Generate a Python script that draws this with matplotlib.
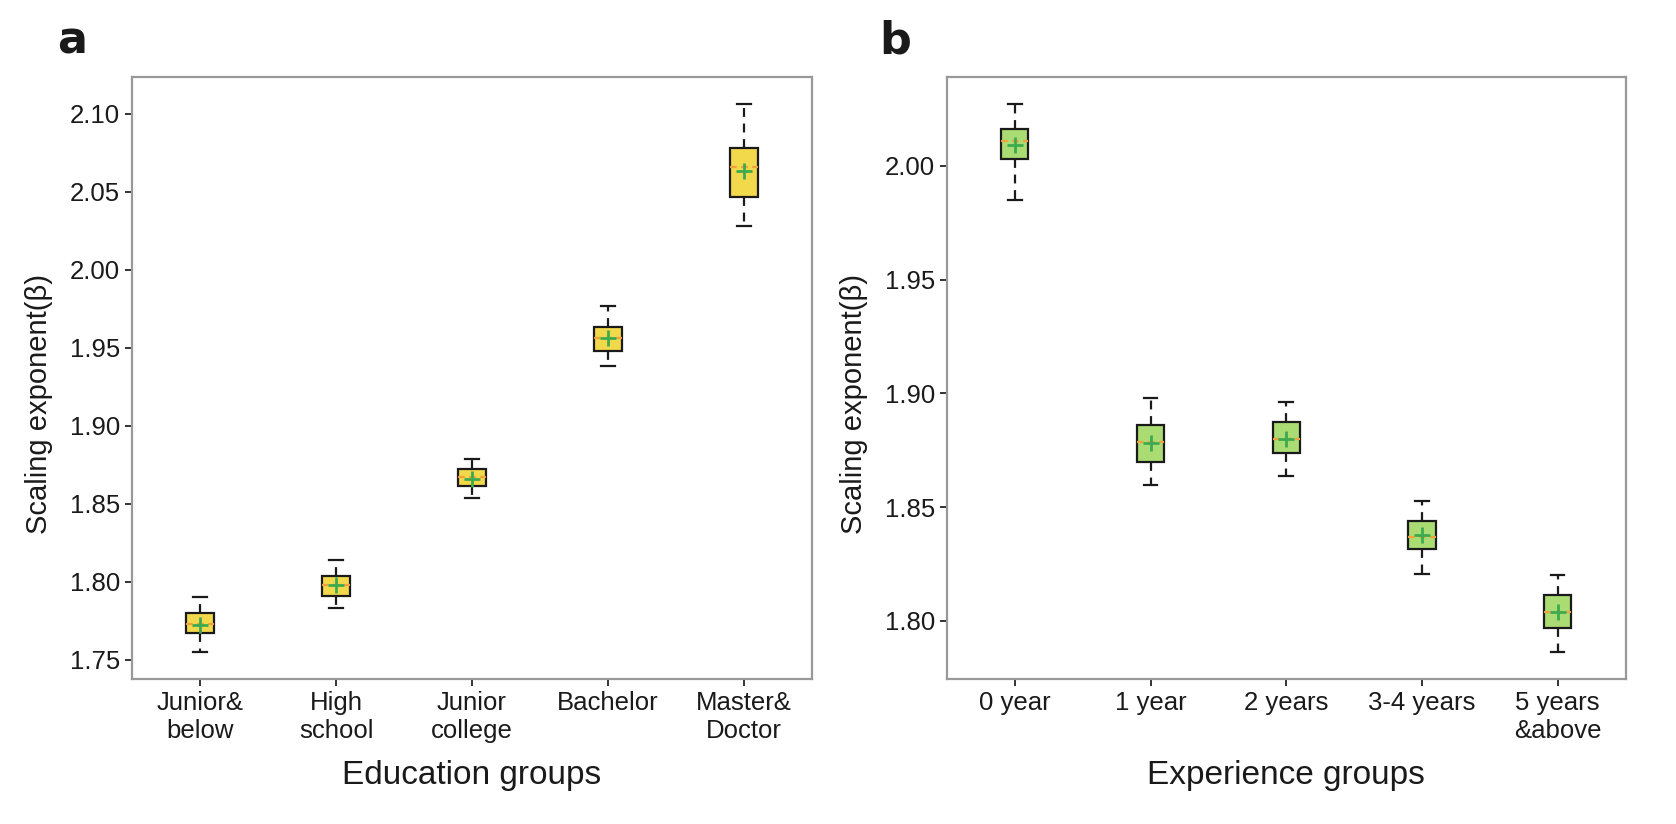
import numpy as np
import matplotlib
matplotlib.use('Agg')
from matplotlib import pyplot as plt

plt.rcParams['font.family'] = ['Liberation Sans', 'DejaVu Sans']

# panel a: education groups
edu_labels = ['Junior&\nbelow', 'High\nschool', 'Junior\ncollege', 'Bachelor', 'Master&\nDoctor']
edu_whislo = [1.755, 1.7834, 1.854, 1.9383, 2.0282]
edu_q1 = [1.767, 1.791, 1.8615, 1.9479, 2.0464]
edu_med = [1.7728, 1.798, 1.867, 1.9562, 2.066]
edu_mean = [1.7725, 1.798, 1.866, 1.956, 2.0632]
edu_q3 = [1.7798, 1.8036, 1.872, 1.9632, 2.0782]
edu_whishi = [1.790, 1.8142, 1.8785, 1.9766, 2.1061]

# panel b: experience groups
exp_labels = ['0 year', '1 year', '2 years', '3-4 years', '5 years\n&above']
exp_whislo = [1.9851, 1.8598, 1.8638, 1.8207, 1.7862]
exp_q1 = [2.0029, 1.8697, 1.8736, 1.8316, 1.7968]
exp_med = [2.0111, 1.8787, 1.880, 1.8369, 1.804]
exp_mean = [2.0092, 1.878, 1.880, 1.8375, 1.804]
exp_q3 = [2.0161, 1.886, 1.8875, 1.844, 1.8112]
exp_whishi = [2.0272, 1.8981, 1.8962, 1.8528, 1.820]


def make_stats(labels, whislo, q1, med, mean, q3, whishi):
    stats = []
    for i in range(len(labels)):
        stats.append(dict(label=labels[i], whislo=whislo[i], q1=q1[i], med=med[i],
                          mean=mean[i], q3=q3[i], whishi=whishi[i], fliers=[]))
    return stats


def draw_panel(ax, stats, color, xlabel, letter, letter_x):
    ax.bxp(stats, widths=0.2, showmeans=True, patch_artist=True,
           boxprops=dict(facecolor=color, edgecolor='#1a1a1a', linewidth=1.6),
           whiskerprops=dict(color='#1a1a1a', linestyle=(0, (4, 3)), linewidth=1.6),
           capprops=dict(color='#1a1a1a', linewidth=1.6),
           medianprops=dict(color='#f0a03c', linestyle=(0, (3, 2)), linewidth=1.6),
           meanprops=dict(marker='+', markeredgecolor='#3daa4f', markersize=11,
                          markeredgewidth=2.0))
    ax.set_xlabel(xlabel, fontsize=24, color='#1a1a1a', labelpad=12)
    ax.set_ylabel('Scaling exponent(β)', fontsize=21, color='#1a1a1a',
                  labelpad=12, y=0.457)
    ax.tick_params(axis='both', labelsize=18.5, length=5, width=1.4,
                   color='#333333', labelcolor='#1a1a1a')
    ax.yaxis.set_major_formatter(matplotlib.ticker.FormatStrFormatter('%.2f'))
    for sp in ax.spines.values():
        sp.set_color('#999999')
        sp.set_linewidth(1.6)
    ax.text(letter_x, 1.023, letter, transform=ax.transAxes, fontsize=32,
            fontweight='bold', color='#1a1a1a', ha='left', va='bottom',
            family='DejaVu Sans')


fig = plt.figure(figsize=(16.76, 8.24), dpi=100)
ax_a = fig.add_axes([0.0788, 0.1754, 0.4057, 0.7315])
ax_b = fig.add_axes([0.5650, 0.1754, 0.4049, 0.7315])

draw_panel(ax_a, make_stats(edu_labels, edu_whislo, edu_q1, edu_med, edu_mean, edu_q3, edu_whishi),
           '#f2d84b', 'Education groups', 'a', -0.11)
draw_panel(ax_b, make_stats(exp_labels, exp_whislo, exp_q1, exp_med, exp_mean, exp_q3, exp_whishi),
           '#abdb73', 'Experience groups', 'b', -0.10)

ax_a.set_yticks([1.75, 1.80, 1.85, 1.90, 1.95, 2.00, 2.05, 2.10])
ax_b.set_yticks([1.80, 1.85, 1.90, 1.95, 2.00])

fig.savefig('out.png', dpi=100)
